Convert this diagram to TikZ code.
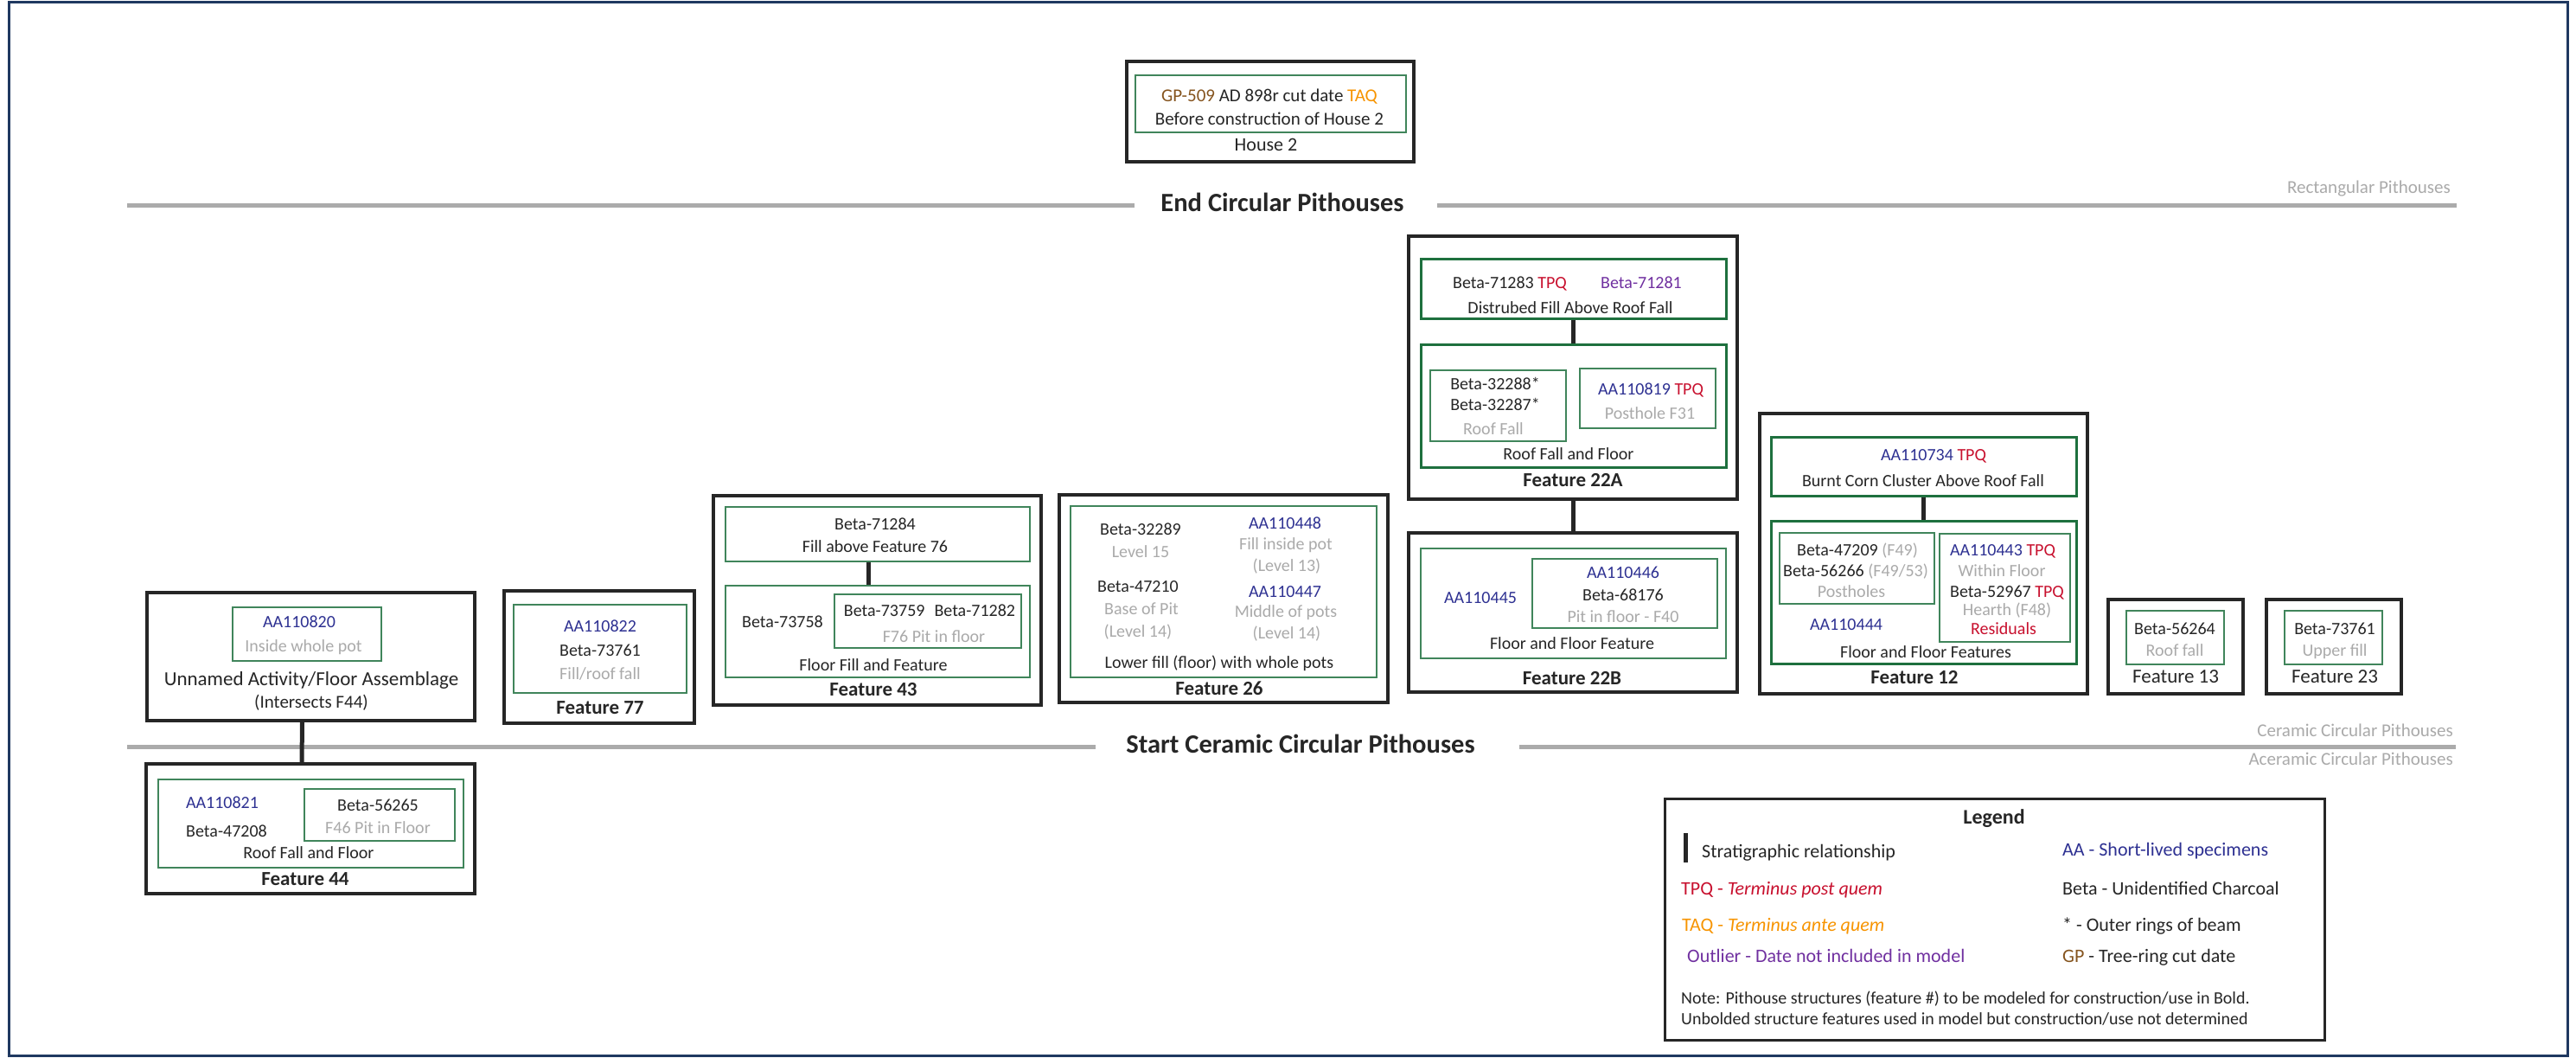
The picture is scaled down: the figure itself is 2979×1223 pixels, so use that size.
\documentclass[tikz,border=0pt]{standalone}
\usepackage{fontspec}
\setmainfont{Carlito}
\usepackage{xcolor}
\usetikzlibrary{fit,calc}

\definecolor{inkblack}{RGB}{38,38,38}
\definecolor{aablue}{RGB}{46,49,146}
\definecolor{tpqred}{RGB}{200,16,46}
\definecolor{taqorange}{RGB}{247,148,0}
\definecolor{outpurple}{RGB}{112,48,160}
\definecolor{gpbrown}{RGB}{133,84,30}
\definecolor{locgray}{RGB}{170,170,170}
\definecolor{boxgreen}{RGB}{30,112,62}
\definecolor{rulegray}{RGB}{171,171,171}
\definecolor{framenavy}{RGB}{31,56,96}

\newcommand{\tpq}{\textcolor{tpqred}{TPQ}}
\newcommand{\lgray}[1]{\textcolor{locgray}{#1}}

\tikzset{
  feature/.style={draw=inkblack, line width=3.5pt, inner sep=0pt},
  layer/.style={draw=boxgreen, line width=3pt, inner sep=0pt},
  sample/.style={draw=boxgreen!85!white, line width=1.6pt, inner sep=0pt},
  strat/.style={draw=inkblack, line width=5pt},
  divider/.style={draw=rulegray, line width=5pt},
  lbl/.style={inner sep=0pt, text=inkblack, font=\fontsize{20}{24}\selectfont,
    text height=14pt, text depth=4pt},
  loc/.style={lbl, text=locgray},
  aa/.style={lbl, text=aablue},
  ftitle/.style={inner sep=0pt, text=inkblack, font=\fontsize{23}{27}\selectfont\bfseries,
    text height=16pt, text depth=5pt},
  fname/.style={ftitle, font=\fontsize{23}{27}\selectfont},
  secttitle/.style={inner sep=0pt, text=inkblack, font=\fontsize{30.5}{34}\selectfont\bfseries,
    text height=21pt, text depth=6pt},
  sectnote/.style={inner sep=0pt, anchor=east, text=locgray, font=\fontsize{21}{25}\selectfont,
    text height=15pt, text depth=4pt},
  legtext/.style={inner sep=0pt, anchor=west, text=inkblack, font=\fontsize{22}{26}\selectfont,
    text height=15pt, text depth=5pt},
  notetext/.style={legtext, font=\fontsize{20}{24}\selectfont}
}

\begin{document}
\begin{tikzpicture}[x=1pt, y=-1pt]
    % Page
    \fill[white] (0,0) rectangle (2979,1223);
    \draw[framenavy, line width=3pt] (10,3) rectangle (2969,1220);

    % House 2
    \node[feature, fit={(1303,71) (1635,187)}] (house) {};
    \node[sample, fit={(1313,87) (1626,153)}] (housecut) {};
    \node[lbl, font=\fontsize{21}{25}\selectfont] (gp509) at (1468,112)
        {\textcolor{gpbrown}{GP-509} AD 898r cut date \textcolor{taqorange}{TAQ}};
    \node[lbl, font=\fontsize{21}{25}\selectfont] (cutnote) at (1468,139) {Before construction of House 2};
    \node[fname, font=\fontsize{22}{26}\selectfont] (houselbl) at (1464,169) {House 2};

    % Dividers
    \node[secttitle] (endtitle) at (1483,237) {End Circular Pithouses};
    \coordinate (endA) at (147,237);
    \coordinate (endB) at (1312,237);
    \coordinate (endC) at (1662,237);
    \coordinate (endD) at (2841,237);
    \draw[divider] (endA) -- (endB);
    \draw[divider] (endC) -- (endD);
    \node[sectnote] (rectlbl) at (2834,218) {Rectangular Pithouses};

    \node[secttitle] (starttitle) at (1504,863) {Start Ceramic Circular Pithouses};
    \coordinate (startA) at (147,863);
    \coordinate (startB) at (1267,863);
    \coordinate (startC) at (1757,863);
    \coordinate (startD) at (2840,863);
    \draw[divider] (startA) -- (startB);
    \draw[divider] (startC) -- (startD);
    \node[sectnote] (ceramlbl) at (2837,846) {Ceramic Circular Pithouses};
    \node[sectnote] (aceramlbl) at (2837,879) {Aceramic Circular Pithouses};

    % Unnamed activity
    \node[feature, fit={(170,685) (549,833)}] (unnamed) {};
    \node[sample, fit={(269,702) (441,764)}] (unnamedpot) {};
    \node[aa] (aa110820) at (346,720) {AA110820};
    \node[loc] (potloc) at (351,748) {Inside whole pot};
    \node[fname] (unnamedlbl) at (360,787) {Unnamed Activity/Floor Assemblage};
    \node[lbl, font=\fontsize{21}{25}\selectfont] (intersects) at (360,813) {(Intersects F44)};

    % Feature 44
    \node[feature, fit={(169,883) (549,1033)}] (f44) {};
    \node[sample, fit={(183,901) (536,1003)}] (f44floor) {};
    \node[sample, fit={(352,912) (526,972)}] (f44pit) {};
    \node[aa] (aa110821) at (257,929) {AA110821};
    \node[lbl] (beta47208) at (262,962) {Beta-47208};
    \node[lbl] (beta56265) at (437,932) {Beta-56265};
    \node[loc] (f46loc) at (437,958) {F46 Pit in Floor};
    \node[lbl] (f44floorlbl) at (357,987) {Roof Fall and Floor};
    \node[ftitle] (f44lbl) at (353,1018) {Feature 44};
    \draw[strat] ($(unnamed.south)+(-10,0)$) -- ($(f44.north)+(-10,0)$);

    % Feature 77
    \node[feature, fit={(583,683) (803,836)}] (f77) {};
    \node[sample, fit={(594,699) (794,801)}] (f77fill) {};
    \node[aa] (aa110822) at (694,725) {AA110822};
    \node[lbl] (beta73761a) at (694,753) {Beta-73761};
    \node[loc] (f77loc) at (694,780) {Fill/roof fall};
    \node[ftitle] (f77lbl) at (694,820) {Feature 77};

    % Feature 43
    \node[feature, fit={(825,573) (1204,815)}] (f43) {};
    \node[sample, fit={(839,586) (1191,649)}] (f43up) {};
    \node[sample, fit={(839,677) (1191,783)}] (f43lo) {};
    \node[sample, fit={(965,687) (1181,749)}] (f43pit) {};
    \node[lbl] (beta71284) at (1012,607) {Beta-71284};
    \node[lbl] (f43uplbl) at (1012,633) {Fill above Feature 76};
    \node[lbl] (beta73758) at (905,720) {Beta-73758};
    \node[lbl] (beta73759) at (1075,707) {Beta-73759\hspace{0.55em}Beta-71282};
    \node[loc] (f76loc) at (1080,737) {F76 Pit in floor};
    \node[lbl] (f43lolbl) at (1010,770) {Floor Fill and Feature};
    \node[ftitle] (f43lbl) at (1010,799) {Feature 43};
    \draw[strat] ($(f43up.south)+(-11,0)$) -- ($(f43lo.north)+(-11,0)$);

    % Feature 26
    \node[feature, fit={(1225,572) (1605,812)}] (f26) {};
    \node[sample, fit={(1238,585) (1592,783)}] (f26fill) {};
    \node[lbl] (beta32289) at (1319,613) {Beta-32289};
    \node[loc] (lev15) at (1319,639) {Level 15};
    \node[lbl] (beta47210) at (1316,679) {Beta-47210};
    \node[loc] (pitbase) at (1320,705) {Base of Pit};
    \node[loc] (lev14a) at (1316,731) {(Level 14)};
    \node[aa] (aa110448) at (1486,606) {AA110448};
    \node[loc] (potfill) at (1487,630) {Fill inside pot};
    \node[loc] (lev13) at (1488,655) {(Level 13)};
    \node[aa] (aa110447) at (1486,685) {AA110447};
    \node[loc] (potmid) at (1487,708) {Middle of pots};
    \node[loc] (lev14b) at (1488,733) {(Level 14)};
    \node[lbl] (f26filllbl) at (1410,767) {Lower fill (floor) with whole pots};
    \node[ftitle] (f26lbl) at (1410,798) {Feature 26};

    % Feature 22A
    \node[feature, fit={(1629,273) (2009,577)}] (f22a) {};
    \node[layer, fit={(1643,299) (1996,368)}] (f22aup) {};
    \node[layer, fit={(1643,398) (1996,540)}] (f22alo) {};
    \node[sample, fit={(1654,428) (1811,510)}] (f22aroof) {};
    \node[sample, fit={(1827,426) (1984,495)}] (f22apost) {};
    \node[lbl] (beta71283) at (1746,328) {Beta-71283 \tpq};
    \node[lbl, text=outpurple] (beta71281) at (1898,328) {Beta-71281};
    \node[lbl] (f22auplbl) at (1816,357) {Distrubed Fill Above Roof Fall};
    \node[lbl] (beta32288) at (1729,445) {Beta-32288*};
    \node[lbl] (beta32287) at (1729,469) {Beta-32287*};
    \node[loc] (roofloc) at (1727,497) {Roof Fall};
    \node[lbl] (aa110819) at (1909,451) {\textcolor{aablue}{AA110819} \tpq};
    \node[loc] (postloc) at (1908,479) {Posthole F31};
    \node[lbl] (f22alolbl) at (1814,526) {Roof Fall and Floor};
    \node[ftitle] (f22albl) at (1819,557) {Feature 22A};
    \draw[strat] (f22aup.south) -- (f22alo.north);

    % Feature 22B
    \node[feature, fit={(1629,616) (2009,800)}] (f22b) {};
    \node[sample, fit={(1643,634) (1996,761)}] (f22bfloor) {};
    \node[sample, fit={(1772,646) (1986,726)}] (f22bpit) {};
    \node[aa] (aa110446) at (1877,663) {AA110446};
    \node[lbl] (beta68176) at (1877,689) {Beta-68176};
    \node[loc] (f40loc) at (1877,714) {Pit in floor - F40};
    \node[aa] (aa110445) at (1712,692) {AA110445};
    \node[lbl] (f22bfloorlbl) at (1818,745) {Floor and Floor Feature};
    \node[ftitle] (f22blbl) at (1818,786) {Feature 22B};
    \draw[strat] (f22a.south) -- (f22b.north);

    % Feature 12
    \node[feature, fit={(2035,478) (2414,802)}] (f12) {};
    \node[layer, fit={(2048,505) (2401,573)}] (f12up) {};
    \node[layer, fit={(2048,602) (2401,767)}] (f12lo) {};
    \node[sample, fit={(2058,616) (2237,698)}] (f12posts) {};
    \node[sample, fit={(2243,617) (2394,742)}] (f12hearth) {};
    \node[lbl] (aa110734) at (2236,527) {\textcolor{aablue}{AA110734} \tpq};
    \node[lbl] (f12uplbl) at (2224,557) {Burnt Corn Cluster Above Roof Fall};
    \node[lbl] (beta47209) at (2148,637) {Beta-47209 \lgray{(F49)}};
    \node[lbl] (beta56266) at (2146,661) {Beta-56266 \lgray{(F49/53)}};
    \node[loc] (postsloc) at (2141,685) {Postholes};
    \node[lbl] (aa110443) at (2316,637) {\textcolor{aablue}{AA110443} \tpq};
    \node[loc] (withinloc) at (2315,661) {Within Floor};
    \node[lbl] (beta52967) at (2321,685) {Beta-52967 \tpq};
    \node[loc] (hearthloc) at (2321,706) {Hearth (F48)};
    \node[lbl, text=tpqred] (residuals) at (2317,728) {Residuals};
    \node[aa] (aa110444) at (2135,723) {AA110444};
    \node[lbl] (f12lolbl) at (2227,755) {Floor and Floor Features};
    \node[ftitle] (f12lbl) at (2214,785) {Feature 12};
    \draw[strat] (f12up.south) -- (f12lo.north);

    % Feature 13 and Feature 23
    \node[feature, fit={(2438,693) (2594,802)}] (f13) {};
    \node[sample, fit={(2459,706) (2572,768)}] (f13roof) {};
    \node[lbl] (beta56264) at (2515,728) {Beta-56264};
    \node[loc] (f13loc) at (2515,753) {Roof fall};
    \node[fname] (f13lbl) at (2516,784) {Feature 13};

    \node[feature, fit={(2621,693) (2777,802)}] (f23) {};
    \node[sample, fit={(2642,706) (2755,768)}] (f23fill) {};
    \node[lbl] (beta73761b) at (2700,728) {Beta-73761};
    \node[loc] (f23loc) at (2700,753) {Upper fill};
    \node[fname] (f23lbl) at (2700,784) {Feature 23};

    % Legend
    \node[feature, line width=3pt, fit={(1925,923) (2688,1202)}] (legend) {};
    \node[ftitle, font=\fontsize{24}{28}\selectfont\bfseries] (legendlbl) at (2306,947) {Legend};
    \draw[strat] (1949,963) -- (1949,997);
    \node[legtext] (keystrat) at (1968,986) {Stratigraphic relationship};
    \node[legtext, text=aablue] (keyaa) at (2385,984) {AA - Short-lived specimens};
    \node[legtext, text=tpqred] (keytpq) at (1944,1029) {TPQ - \textit{Terminus post quem}};
    \node[legtext] (keybeta) at (2385,1029) {Beta - Unidentified Charcoal};
    \node[legtext, text=taqorange] (keytaq) at (1945,1071) {TAQ - \textit{Terminus ante quem}};
    \node[legtext] (keystar) at (2385,1071) {* - Outer rings of beam};
    \node[legtext, text=outpurple] (keyout) at (1951,1107) {Outlier - Date not included in model};
    \node[legtext] (keygp) at (2385,1107) {\textcolor{gpbrown}{GP} - Tree-ring cut date};
    \node[notetext] (note1) at (1944,1155) {Note: Pithouse structures (feature \#) to be modeled for construction/use in Bold.};
    \node[notetext] (note2) at (1944,1179) {Unbolded structure features used in model but construction/use not determined};
\end{tikzpicture}
\end{document}
